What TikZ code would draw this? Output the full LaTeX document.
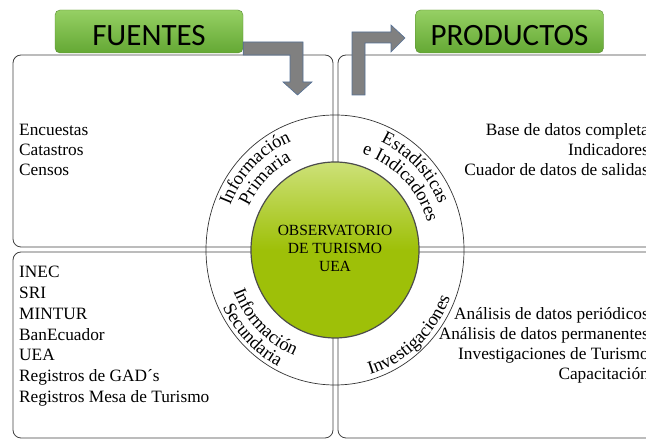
\documentclass[tikz,border=0pt]{standalone}
\usepackage{fontspec}
\setmainfont{Liberation Serif}
\newfontfamily\tabfont{Carlito}
\usetikzlibrary{decorations.text}
\definecolor{tabtop}{RGB}{150,208,100}
\definecolor{tabbottom}{RGB}{100,168,52}
\definecolor{tabedge}{RGB}{88,138,50}
\definecolor{core}{RGB}{158,192,8}
\definecolor{corelight}{RGB}{205,225,120}
\definecolor{bendfill}{RGB}{128,128,128}
\definecolor{bendedge}{RGB}{84,112,150}
\newcommand{\listfont}{\fontsize{17.3}{20}\selectfont}
\newcommand{\ringfont}{\fontsize{18.5}{20}\selectfont}
\newcommand{\corefont}{\fontsize{15.5}{18}\selectfont}
\begin{document}
\begin{tikzpicture}[x=1pt,y=1pt,>=latex,
  box/.style={draw=black!75,line width=0.8pt,rounded corners=8pt},
  tab/.style={draw=tabedge,top color=tabtop,bottom color=tabbottom,rounded corners=5pt,
    minimum width=188pt,minimum height=43pt,inner sep=0pt,text height=28pt,text depth=0pt,
    font=\tabfont\fontsize{31}{34}\selectfont},
  bendarrow/.style={fill=bendfill,draw=bendedge,line width=0.6pt},
  item/.style={inner sep=0pt,font=\listfont},
  ringtext/.style={decorate,decoration={text along path,text align=center,
    text={|\ringfont|#1}}}
]
\useasboundingbox (0,0) rectangle (646,441);
\clip (0,0) rectangle (646,441);

\draw[box] (13,194) rectangle (333,386);
\draw[box] (338,194) rectangle (680,386);
\draw[box] (13,3) rectangle (333,189);
\draw[box] (338,3) rectangle (680,189);

\node[tab] (fuentes) at (149,409.5) {FUENTES};
\node[tab] (productos) at (509.5,409.5) {PRODUCTOS};

\draw[bendarrow] (fuentes.east|-0,399) -- (303,399) -- (303,359) -- (312,359) -- (297.5,346)
  -- (283,359) -- (290,359) -- (290,386) -- (fuentes.east|-0,386) -- cycle;
\draw[bendarrow] (352,346) -- (352,409) -- (391,409) -- (391,416) -- (405,403)
  -- (391,389) -- (391,398) -- (365,398) -- (365,346) -- cycle;

\coordinate (c) at (335,191);
\draw[black!80,line width=0.7pt] (c) ellipse [x radius=129,y radius=135];
\shade[top color=corelight,bottom color=core,middle color=core,draw=black!70,line width=1.2pt]
  (c) ellipse [x radius=84,y radius=88];
\node[align=center,inner sep=0pt,font=\corefont] (obs) at (335,193) {OBSERVATORIO\\DE TURISMO\\UEA};

\path[ringtext=Información] (c) ++(178:113 and 118) arc[start angle=178,end angle=92,x radius=113,y radius=118];
\path[ringtext=Primaria] (c) ++(178:96 and 100) arc[start angle=178,end angle=92,x radius=96,y radius=100];
\path[ringtext=Estadísticas] (c) ++(88:113 and 118) arc[start angle=88,end angle=2,x radius=113,y radius=118];
\path[ringtext=e Indicadores] (c) ++(88:96 and 100) arc[start angle=88,end angle=2,x radius=96,y radius=100];
\path[ringtext=Información] (c) ++(182:109 and 114) arc[start angle=182,end angle=268,x radius=109,y radius=114];
\path[ringtext=Secundaria] (c) ++(182:125 and 131) arc[start angle=182,end angle=268,x radius=125,y radius=131];
\path[ringtext=Investigaciones] (c) ++(268:124 and 130) arc[start angle=268,end angle=356,x radius=124,y radius=130];

\foreach \i/\txt in {0/Encuestas,1/Catastros,2/Censos}
{
    \node[item,anchor=base west] (prim\i) at (19,305-20*\i) {\txt};
}
\foreach \i/\txt in {0/Base de datos completa,1/Indicadores,2/Cuador de datos de salidas}
{
    \node[item,anchor=base east] (prod\i) at (649,305-20*\i) {\txt};
}
\foreach \i/\txt in {0/INEC,1/SRI,2/MINTUR,3/BanEcuador,4/UEA,5/Registros de GAD´s,6/Registros Mesa de Turismo}
{
    \node[item,anchor=base west] (sec\i) at (19,163-20.7*\i) {\txt};
}
\foreach \i/\txt in {0/Análisis de datos periódicos,1/Análisis de datos permanentes,2/Investigaciones de Turismo,3/Capacitación}
{
    \node[item,anchor=base east] (inv\i) at (649,121-20*\i) {\txt};
}
\end{tikzpicture}
\end{document}
